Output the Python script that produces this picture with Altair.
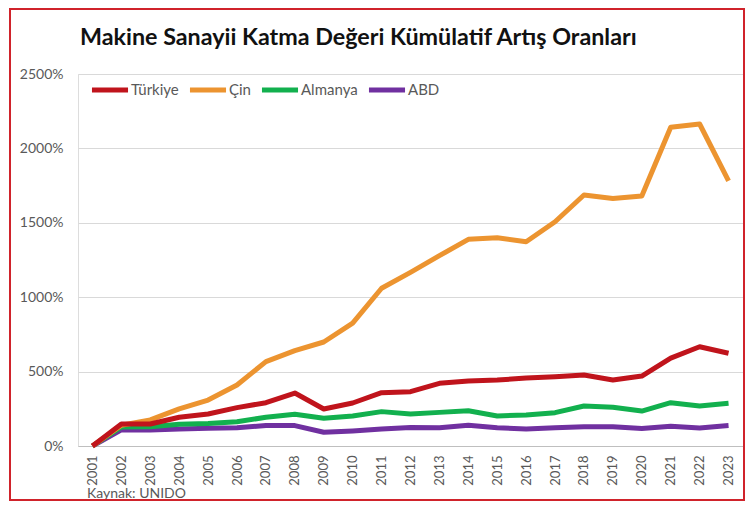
import altair as alt
import pandas as pd

years = ["2001", "2002", "2003", "2004", "2005", "2006", "2007", "2008", "2009", "2010",
         "2011", "2012", "2013", "2014", "2015", "2016", "2017", "2018", "2019", "2020",
         "2021", "2022", "2023"]
turkiye = [0, 148, 148, 193, 215, 258, 291, 356, 249, 289, 358, 365, 421, 437, 443, 457,
           466, 477, 443, 470, 591, 667, 623]
cin = [0, 140, 175, 249, 309, 410, 567, 641, 699, 826, 1060, 1167, 1279, 1389, 1400, 1373,
       1507, 1687, 1664, 1680, 2142, 2164, 1781]
almanya = [0, 128, 130, 146, 152, 163, 193, 213, 186, 202, 231, 215, 226, 237, 202, 208,
           224, 269, 260, 235, 291, 269, 287]
abd = [0, 108, 108, 114, 119, 123, 137, 137, 92, 101, 114, 125, 123, 139, 123, 114,
       123, 130, 130, 117, 132, 121, 137]

series_names = ["Türkiye", "Çin", "Almanya", "ABD"]
series_colors = ["#C0141C", "#EC9430", "#12B04E", "#7030A0"]
draw_order = ["ABD", "Almanya", "Çin", "Türkiye"]

title_text = "Makine Sanayii Katma Değeri Kümülatif Artış Oranları"
source_text = "Kaynak: UNIDO"

rows = []
for name, vals in zip(series_names, [turkiye, cin, almanya, abd]):
    for y, v in zip(years, vals):
        rows.append({"Yıl": y, "Ülke": name, "Değer": v})
df = pd.DataFrame(rows)

FONT = "Lato"
GRAY = "#595959"
W, H = 665, 372

color = alt.Color(
    "Ülke:N",
    scale=alt.Scale(domain=series_names, range=series_colors),
    legend=alt.Legend(
        title=None, orient="none", legendX=11, legendY=-5, direction="horizontal",
        symbolType="stroke", symbolSize=1300, symbolStrokeWidth=5,
        labelFont=FONT, labelFontSize=15, labelColor=GRAY, labelOffset=0,
        columnPadding=0, gridAlign="none", padding=0,
    ),
)

x = alt.X(
    "Yıl:O", sort=years, title=None,
    scale=alt.Scale(padding=0.5),
    axis=alt.Axis(labelAngle=-90, labelFont=FONT, labelFontSize=13, labelColor=GRAY,
                  ticks=False, domainColor="#BFBFBF", labelPadding=9, grid=False),
)
y = alt.Y(
    "Değer:Q", title=None,
    scale=alt.Scale(domain=[0, 2500], nice=False),
    axis=alt.Axis(values=[0, 500, 1000, 1500, 2000, 2500], labelExpr="datum.value + '%'",
                  labelFont=FONT, labelFontSize=14, labelColor=GRAY, ticks=False,
                  domain=False, labelPadding=15, gridColor="#D9D9D9", gridWidth=1.2),
)

base = alt.Chart(df)
lines = [
    base.transform_filter(alt.datum["Ülke"] == name)
    .mark_line(strokeWidth=5, strokeJoin="round", strokeCap="butt")
    .encode(x=x, y=y, color=color)
    for name in draw_order
]

note_df = pd.DataFrame({"t": [source_text]})
note = alt.Chart(note_df).mark_text(
    align="left", baseline="alphabetic", font=FONT, fontSize=14, color=GRAY
).encode(text="t:N", x=alt.value(9), y=alt.value(424))

frame = alt.Chart(pd.DataFrame({"a": [0]})).mark_rect(
    filled=False, stroke="#D0232B", strokeWidth=2
).encode(x=alt.value(-68), x2=alt.value(666), y=alt.value(-65), y2=alt.value(426))

chart = alt.layer(*lines, note, frame).properties(
    width=W, height=H,
    title=alt.TitleParams(title_text, anchor="start", frame="group", font=FONT,
                          fontSize=23.3, fontWeight="bold", color="#111111",
                          baseline="alphabetic", offset=-60, dx=2),
    autosize=alt.AutoSizeParams(type="none"),
    padding={"left": 70, "top": 66, "right": 2, "bottom": 55},
).configure_view(stroke=None).configure(background="white")

chart.save("out.html", embed_options={"renderer": "svg", "actions": False})
